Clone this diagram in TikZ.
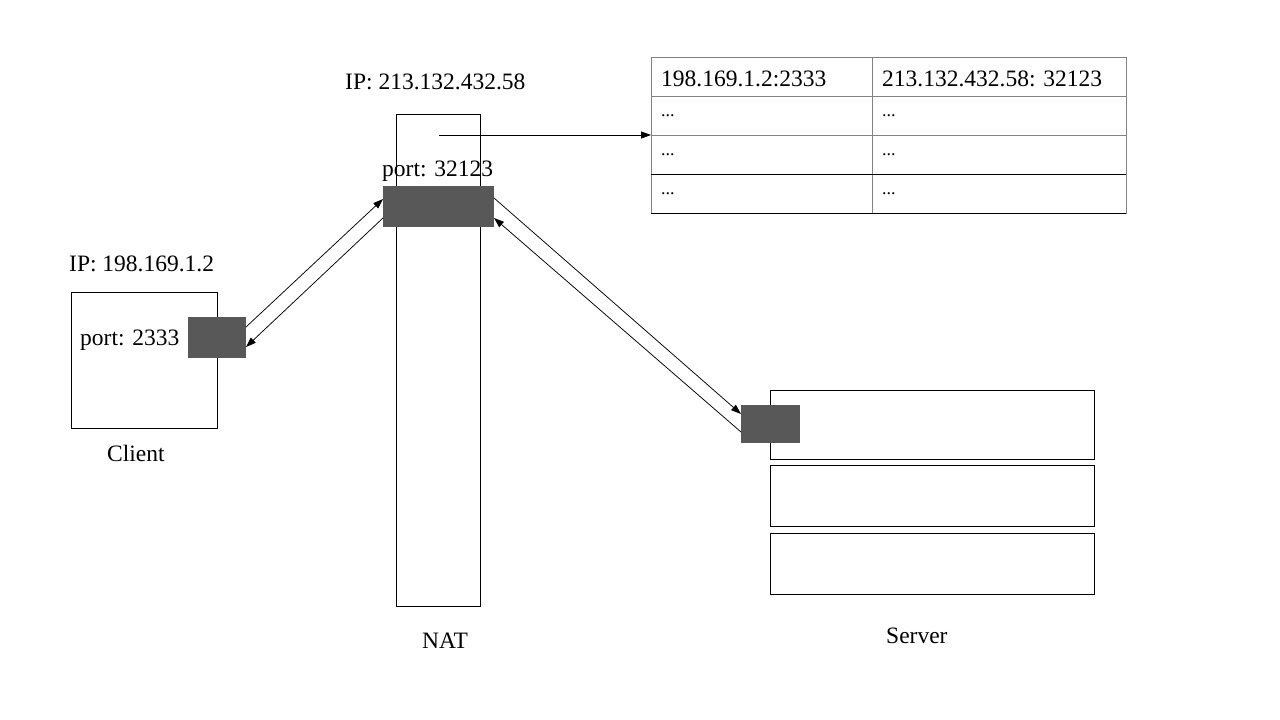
\documentclass[tikz,border=0pt]{standalone}
\usepackage{fontspec}
\setmainfont{Liberation Serif}
\usetikzlibrary{arrows.meta,calc}
\definecolor{portgray}{RGB}{88,88,88}
\definecolor{tabgray}{RGB}{130,130,130}
\begin{document}
\begin{tikzpicture}[x=1pt,y=-1pt,
  box/.style={draw=black,line width=0.9pt,inner sep=0pt,outer sep=0pt,anchor=north west},
  portbox/.style={fill=portgray,draw=none,inner sep=0pt,outer sep=0pt,anchor=north west},
  lbl/.style={inner sep=0pt,anchor=base west,font=\fontsize{23.5}{28}\selectfont},
  dots/.style={lbl,font=\fontsize{18}{22}\selectfont},
  cell/.style={draw=tabgray,line width=0.9pt,inner sep=0pt,outer sep=0pt,anchor=north west,minimum height=39pt},
  conn/.style={line width=0.75pt,-{Triangle[length=10pt,width=7pt]}}]
\useasboundingbox (0,0) rectangle (1280,720);
% client
\node[box,minimum width=146pt,minimum height=136pt] (client) at (71,292) {};
\node[portbox,minimum width=58pt,minimum height=41pt] (cport) at (188,317) {};
\node[lbl] (cportl) at (80,345) {port: 2333};
\node[lbl] (cip) at (69,271) {IP: 198.169.1.2};
\node[lbl] (cname) at (107,461) {Client};
% NAT
\node[box,minimum width=84pt,minimum height=492pt] (nat) at (396,114) {};
\node[portbox,minimum width=111pt,minimum height=41pt] (nport) at (383,186) {};
\node[lbl] (nportl) at (382,176) {port: 32123};
\node[lbl] (nip) at (345,89) {IP: 213.132.432.58};
\node[lbl] (nname) at (422,648) {NAT};
% server
\node[box,minimum width=324pt,minimum height=69pt] (s1) at (770,390) {};
\node[box,minimum width=324pt,minimum height=61pt] (s2) at (770,465) {};
\node[box,minimum width=324pt,minimum height=61pt] (s3) at (770,533) {};
\node[portbox,minimum width=59pt,minimum height=38pt] (sport) at (741,405) {};
\node[lbl] (sname) at (886,643) {Server};
% table
\node[cell,minimum width=221pt] (t11) at (651,57) {};
\node[cell,minimum width=254pt] (t12) at (872,57) {};
\node[cell,minimum width=221pt] (t21) at (651,96) {};
\node[cell,minimum width=254pt] (t22) at (872,96) {};
\node[cell,minimum width=221pt] (t31) at (651,135) {};
\node[cell,minimum width=254pt] (t32) at (872,135) {};
\node[cell,minimum width=221pt] (t41) at (651,174) {};
\node[cell,minimum width=254pt] (t42) at (872,174) {};
\draw[line width=0.9pt] (t41.north west) -- (t42.north east);
\draw[line width=0.9pt] (t41.south west) -- (t42.south east);
\node[lbl] (tx11) at (661,86) {198.169.1.2:2333};
\node[lbl] (tx12) at (882,86) {213.132.432.58: 32123};
\node[dots] (tx21) at (661,116) {...};
\node[dots] (tx22) at (882,116) {...};
\node[dots] (tx31) at (661,155) {...};
\node[dots] (tx32) at (882,155) {...};
\node[dots] (tx41) at (661,194) {...};
\node[dots] (tx42) at (882,194) {...};
% connectors
\coordinate (natpt) at (439,135);
\draw[conn] (natpt) -- (natpt -| t31.west);
\draw[conn] ([yshift=-10pt]cport.north east) -- ([yshift=-13pt]nport.north west);
\draw[conn] ([yshift=-32pt]nport.north west) -- ([yshift=-30pt]cport.north east);
\draw[conn] ([yshift=-12pt]nport.north east) -- ([yshift=-9pt]sport.north west);
\draw[conn] ([yshift=-27pt]sport.north west) -- ([yshift=-32pt]nport.north east);
\end{tikzpicture}
\end{document}
